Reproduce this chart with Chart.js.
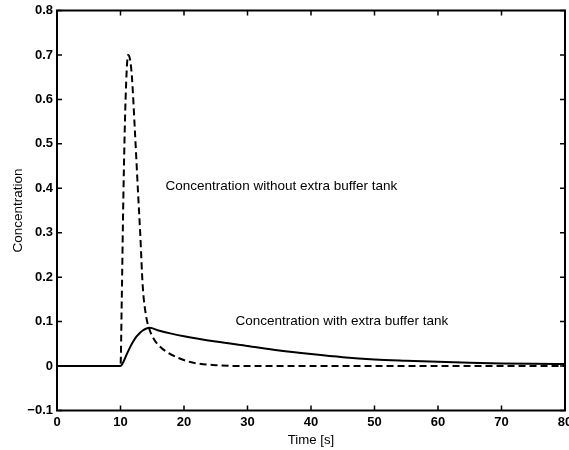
<!DOCTYPE html>
<html lang="en">
<head>
<meta charset="UTF-8">
<title>Concentration</title>
<script src="https://cdn.jsdelivr.net/npm/chart.js"></script>
<style>
  html, body { margin: 0; padding: 0; background: #fff; }
  #wrap { width: 569px; height: 450px; }
</style>
</head>
<body>
<div id="wrap"><canvas id="chart" width="569" height="450"></canvas></div>
<script>
// values
const timeNoTank = [0, 10, 10.2, 10.45, 10.8, 11.2, 11.5, 11.8, 12.3, 12.8, 13.1, 13.5, 14.0, 14.5, 15.2, 16.2, 17.5, 19, 20.5, 22, 25, 30, 80];
const concNoTank = [0, 0, 0.15, 0.38, 0.6, 0.70, 0.69, 0.65, 0.52, 0.38, 0.30, 0.18, 0.115, 0.085, 0.062, 0.044, 0.030, 0.019, 0.011, 0.006, 0.002, 0, 0];

const timeTank = [0, 10, 10.4, 11, 11.5, 12, 12.5, 13, 13.5, 14, 14.6, 16, 18, 20, 25, 30, 35, 40, 45, 50, 55, 60, 65, 70, 75, 80];
const concTank = [0, 0, 0.008, 0.027, 0.042, 0.055, 0.066, 0.074, 0.080, 0.084, 0.086, 0.080, 0.073, 0.067, 0.055, 0.045, 0.035, 0.027, 0.020, 0.015, 0.012, 0.0095, 0.0075, 0.006, 0.005, 0.0045];

const xTicks = [0, 10, 20, 30, 40, 50, 60, 70, 80];
const yTicks = [-0.1, 0, 0.1, 0.2, 0.3, 0.4, 0.5, 0.6, 0.7, 0.8];

const notes = [
    { text: 'Concentration without extra buffer tank', x: 17.1, y: 0.404 },
    { text: 'Concentration with extra buffer tank', x: 28.1, y: 0.100 }
];

const pts = (xs, ys) => xs.map((x, i) => ({ x: x, y: ys[i] }));

// matlab style box with inward ticks, plus the text notes
const boxPlugin = {
    id: 'box',
    afterDatasetsDraw(chart) {
        const { ctx, chartArea: a, scales } = chart;
        const tl = 5;
        ctx.save();
        ctx.strokeStyle = '#000';
        ctx.lineWidth = 1.5;
        ctx.beginPath();
        xTicks.forEach(v => {
            const px = scales.x.getPixelForValue(v);
            ctx.moveTo(px, a.bottom); ctx.lineTo(px, a.bottom - tl);
            ctx.moveTo(px, a.top); ctx.lineTo(px, a.top + tl);
        });
        yTicks.forEach(v => {
            const py = scales.y.getPixelForValue(v);
            ctx.moveTo(a.left, py); ctx.lineTo(a.left + tl, py);
            ctx.moveTo(a.right, py); ctx.lineTo(a.right - tl, py);
        });
        ctx.stroke();
        ctx.lineWidth = 2;
        ctx.strokeRect(a.left, a.top, a.right - a.left, a.bottom - a.top);

        ctx.fillStyle = '#000';
        ctx.font = '13.5px "Liberation Sans", Arial, sans-serif';
        ctx.textAlign = 'left';
        ctx.textBaseline = 'middle';
        notes.forEach(n => {
            ctx.fillText(n.text, scales.x.getPixelForValue(n.x), scales.y.getPixelForValue(n.y));
        });
        ctx.restore();
    }
};

new Chart(document.getElementById('chart'), {
    type: 'line',
    data: {
        datasets: [{
            label: 'Without extra buffer tank',
            data: pts(timeNoTank, concNoTank),
            borderColor: '#000',
            borderWidth: 2,
            borderDash: [7, 4],
            pointRadius: 0,
            cubicInterpolationMode: 'monotone'
        }, {
            label: 'With extra buffer tank',
            data: pts(timeTank, concTank),
            borderColor: '#000',
            borderWidth: 2,
            pointRadius: 0,
            cubicInterpolationMode: 'monotone'
        }]
    },
    options: {
        responsive: false,
        animation: false,
        layout: { padding: { top: 10.5, right: 4, left: 0, bottom: 0 } },
        plugins: { legend: { display: false }, tooltip: { enabled: false } },
        scales: {
            x: {
                type: 'linear',
                min: 0, max: 80,
                afterBuildTicks: s => { s.ticks = xTicks.map(v => ({ value: v })); },
                afterFit: s => { s.height = 39.5; s.paddingLeft = 0; s.paddingRight = 0; },
                grid: { display: false, drawTicks: false },
                border: { display: false },
                ticks: {
                    padding: 4.5,
                    color: '#000',
                    maxRotation: 0,
                    autoSkip: false,
                    font: { family: '"Liberation Sans", Arial, sans-serif', size: 13, weight: 'bold' }
                },
                title: {
                    display: true,
                    text: 'Time [s]',
                    color: '#000',
                    padding: { top: 0, bottom: 2 },
                    font: { family: '"Liberation Sans", Arial, sans-serif', size: 13.2 }
                }
            },
            y: {
                min: -0.1, max: 0.8,
                afterBuildTicks: s => { s.ticks = yTicks.map(v => ({ value: v })); },
                afterFit: s => { s.width = 57; s.paddingTop = 0; s.paddingBottom = 0; },
                grid: { display: false, drawTicks: false },
                border: { display: false },
                ticks: {
                    padding: 4,
                    color: '#000',
                    autoSkip: false,
                    font: { family: '"Liberation Sans", Arial, sans-serif', size: 13, weight: 'bold' },
                    callback: v => v === 0 ? '0' : (v < 0 ? '\u2212' + Math.abs(v).toFixed(1) : v.toFixed(1))
                },
                title: {
                    display: true,
                    text: 'Concentration',
                    color: '#000',
                    padding: { top: 10, bottom: 0 },
                    font: { family: '"Liberation Sans", Arial, sans-serif', size: 13.5 }
                }
            }
        }
    },
    plugins: [boxPlugin]
});
</script>
</body>
</html>
